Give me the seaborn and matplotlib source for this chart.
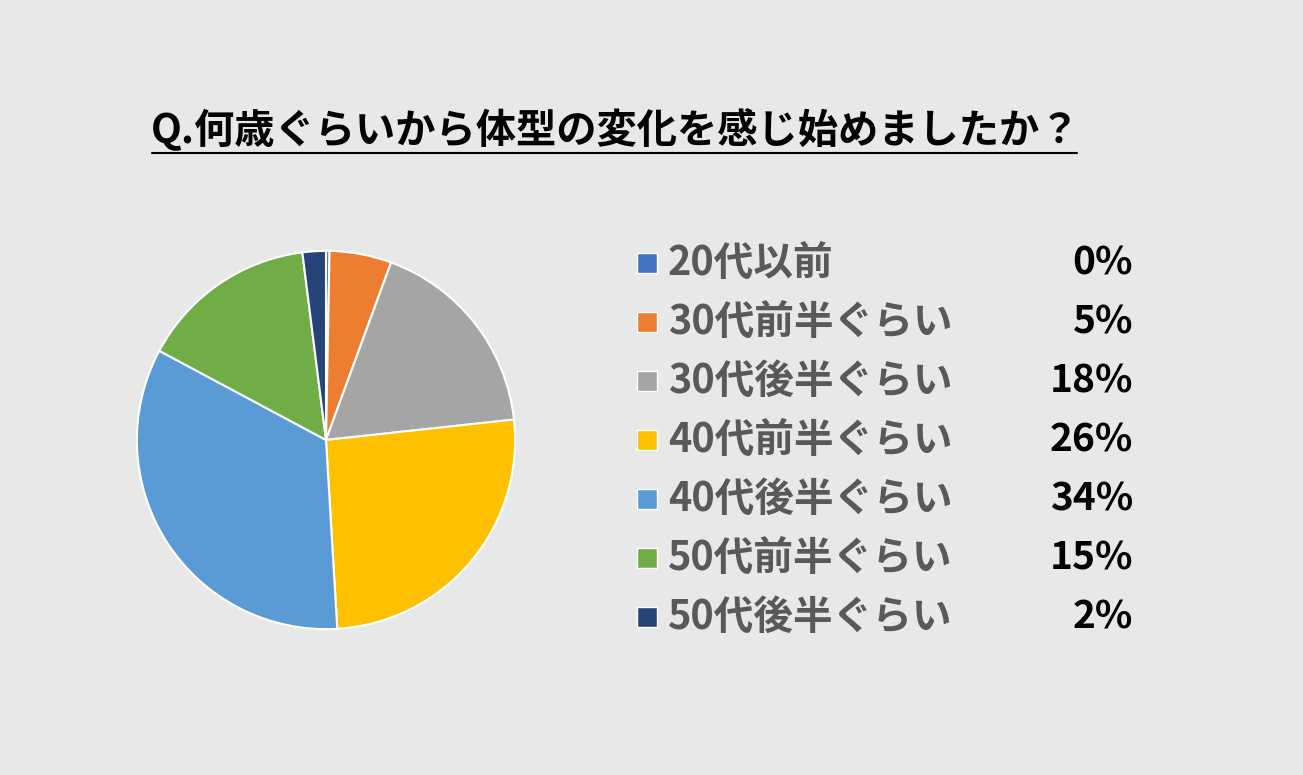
import matplotlib.pyplot as plt
import matplotlib.patches as mpatches
import matplotlib.lines as mlines
import seaborn as sns

# Data
categories = ["20代以前", "30代前半ぐらい", "30代後半ぐらい", "40代前半ぐらい",
              "40代後半ぐらい", "50代前半ぐらい", "50代後半ぐらい"]
shares = [0.3, 5.3, 17.7, 25.8, 33.8, 15.2, 2.0]
pct_labels = ["0%", "5%", "18%", "26%", "34%", "15%", "2%"]
colors = ["#4472C4", "#ED7D31", "#A5A5A5", "#FFC000", "#5B9BD5", "#70AD47", "#264478"]

TITLE = "Q.何歳ぐらいから体型の変化を感じ始めましたか？"
BG = "#E8E8E8"
W, H = 1303, 775

sns.set_theme(style="white")
plt.rcParams["font.family"] = ["Noto Sans CJK JP", "DejaVu Sans"]

fig = plt.figure(figsize=(W / 100, H / 100), dpi=100)
fig.patch.set_facecolor(BG)

# pie
cx, cy, r = 326, 440, 191
ax = fig.add_axes([(cx - r) / W, (H - cy - r) / H, 2 * r / W, 2 * r / H])
ax.pie(
    shares,
    colors=sns.color_palette(colors),
    startangle=90,
    counterclock=False,
    radius=1,
    wedgeprops=dict(edgecolor="white", linewidth=1.5),
)
ax.set_xlim(-1.01, 1.01)
ax.set_ylim(-1.01, 1.01)
ax.set_aspect("equal")
ax.axis("off")

# title + underline
fig.text(151 / W, 1 - 130 / H, TITLE, fontsize=29, fontweight="bold",
         color="black", ha="left", va="center")
fig.add_artist(mlines.Line2D([152 / W, 1077 / W], [1 - 153 / H, 1 - 153 / H],
                             color="black", linewidth=1.5))

# legend with values
row0, step = 263, 59
for i, (cat, pct, col) in enumerate(zip(categories, pct_labels, colors)):
    y = row0 + i * step
    fig.add_artist(mpatches.Rectangle((637 / W, 1 - (y + 10) / H), 20 / W, 20 / H,
                                      facecolor=col, edgecolor="white", linewidth=1,
                                      transform=fig.transFigure))
    fig.text(668 / W, 1 - y / H, cat, fontsize=28.5, fontweight="bold",
             color="#595959", ha="left", va="center")
    fig.text(1133 / W, 1 - y / H, pct, fontsize=28, fontweight="bold",
             color="black", ha="right", va="center")

plt.savefig("out.png", dpi=100, facecolor=BG)
